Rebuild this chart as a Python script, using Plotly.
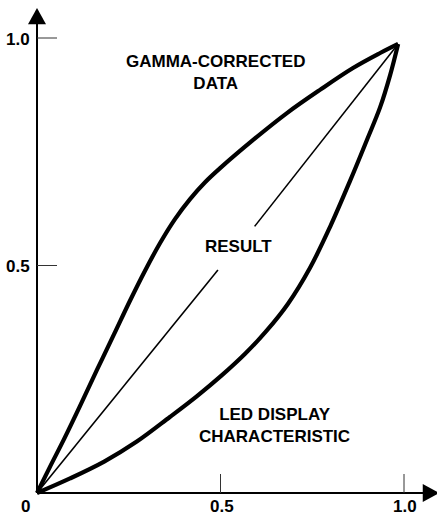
import plotly.graph_objects as go

# ---------------- data ----------------
gamma_x = [0.0, 0.035, 0.074, 0.117, 0.163, 0.210, 0.253, 0.294, 0.335, 0.376, 0.417,
           0.458, 0.499, 0.589, 0.681, 0.771, 0.861, 0.935, 0.984]
gamma_y = [0.0, 0.057, 0.119, 0.191, 0.270, 0.349, 0.422, 0.488, 0.549, 0.602, 0.646,
           0.683, 0.714, 0.776, 0.835, 0.886, 0.934, 0.967, 0.987]

led_x = [0.0, 0.090, 0.183, 0.272, 0.362, 0.436, 0.504, 0.567, 0.624, 0.684, 0.744,
         0.798, 0.853, 0.899, 0.935, 0.962, 0.984]
led_y = [0.0, 0.032, 0.069, 0.113, 0.167, 0.213, 0.259, 0.306, 0.355, 0.416, 0.495,
         0.584, 0.686, 0.776, 0.848, 0.918, 0.987]

result_x = [0.0, 0.493, None, 0.593, 0.984]
result_y = [0.0, 0.490, None, 0.586, 0.987]

tick_vals = [0.5, 1.0]
x_tick_labels = ["0", "0.5", "1.0"]
x_tick_pos = [0.0, 0.5, 1.0]
y_tick_labels = ["0.5", "1.0"]

# ---------------- layout geometry ----------------
W, H = 437, 515
X0_PX, X_SCALE = 37, 367      # pixel of x=0, pixels per unit
Y0_PX, Y_SCALE = 493, 455     # pixel of y=0, pixels per unit
PX = 1.0 / X_SCALE
PY = 1.0 / Y_SCALE
x_range = [-X0_PX * PX, (W - X0_PX) * PX]
y_range = [-(H - Y0_PX) * PY, Y0_PX * PY]

FONT = dict(family="Liberation Sans, Arial, Helvetica, sans-serif", size=17,
            color="black", weight="bold")

fig = go.Figure()
fig.add_trace(go.Scatter(x=gamma_x, y=gamma_y, mode="lines",
                         line=dict(color="black", width=4.2, shape="spline", smoothing=1.0),
                         hoverinfo="skip"))
fig.add_trace(go.Scatter(x=led_x, y=led_y, mode="lines",
                         line=dict(color="black", width=4.2, shape="spline", smoothing=1.0),
                         hoverinfo="skip"))
fig.add_trace(go.Scatter(x=result_x, y=result_y, mode="lines", line=dict(color="black", width=1.6),
                         connectgaps=False, hoverinfo="skip"))

shapes = []
# axes lines
shapes.append(dict(type="line", x0=0, y0=0, x1=0, y1=1.031, line=dict(color="black", width=2)))
shapes.append(dict(type="line", x0=0, y0=0, x1=1.052, y1=0, line=dict(color="black", width=2)))
# arrow heads
shapes.append(dict(type="path",
                   path=f"M {-9*PX} {1.030} L {9*PX} {1.030} L 0 {1.066} Z",
                   fillcolor="black", line=dict(color="black", width=0)))
shapes.append(dict(type="path",
                   path=f"M {1.051} {-9*PY} L {1.051} {9*PY} L {1.096} 0 Z",
                   fillcolor="black", line=dict(color="black", width=0)))
# ticks
for v in tick_vals:
    shapes.append(dict(type="line", x0=0, y0=v, x1=20 * PX, y1=v, line=dict(color="#333", width=1)))
    shapes.append(dict(type="line", x0=v, y0=0, x1=v, y1=19 * PY, line=dict(color="#333", width=1)))

annotations = []
for lab, v in zip(x_tick_labels, x_tick_pos):
    annotations.append(dict(x=v, y=0, text=lab, showarrow=False, font=FONT,
                            xanchor="right" if v == 0 else "center", yanchor="middle",
                            xshift=-5 if v == 0 else 1, yshift=-13))
for lab, v in zip(y_tick_labels, tick_vals):
    annotations.append(dict(x=0, y=v, text=lab, showarrow=False, font=FONT,
                            xanchor="right", yanchor="middle", xshift=-5, yshift=-1))

annotations.append(dict(x=0.485, y=0.924, text="GAMMA-CORRECTED<br>DATA", showarrow=False,
                        font=FONT, xanchor="center", yanchor="middle", align="center"))
annotations.append(dict(x=0.550, y=0.541, text="RESULT", showarrow=False,
                        font=FONT, xanchor="center", yanchor="middle"))
annotations.append(dict(x=0.647, y=0.149, text="LED DISPLAY<br>CHARACTERISTIC", showarrow=False,
                        font=FONT, xanchor="center", yanchor="middle", align="center"))

fig.update_layout(
    width=W, height=H, autosize=False,
    margin=dict(l=0, r=0, t=0, b=0, pad=0),
    paper_bgcolor="white", plot_bgcolor="white",
    showlegend=False,
    xaxis=dict(range=x_range, visible=False, fixedrange=True),
    yaxis=dict(range=y_range, visible=False, fixedrange=True),
    shapes=shapes, annotations=annotations,
)

fig.write_html("out.html", config={"displayModeBar": False},
               post_script="document.body.style.margin='0';")
